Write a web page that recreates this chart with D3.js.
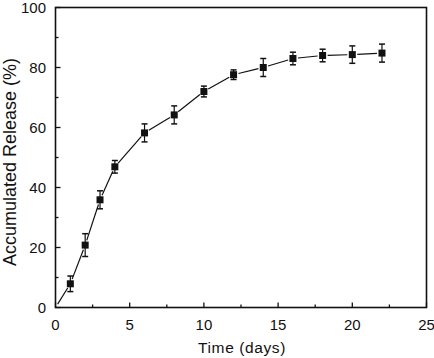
<!DOCTYPE html>
<html><head><meta charset="utf-8">
<script src="https://cdn.jsdelivr.net/npm/d3@7"></script>
<style>body{margin:0;background:#fff}svg{display:block}text{font-family:"Liberation Sans",Arial,sans-serif;fill:#111}</style>
</head><body><svg id="c" width="434" height="358"></svg>
<script>
const days = [0, 1, 2, 3, 4, 6, 8, 10, 12, 14, 16, 18, 20, 22];
const release = [0, 7.9, 20.8, 35.9, 46.9, 58.2, 64.2, 72, 77.6, 80, 83, 84, 84.3, 84.8];
const errors = [0, 2.6, 3.8, 3, 2.1, 3, 3, 1.8, 1.6, 3, 2.1, 2.1, 2.9, 3];
const xTicks = [0, 5, 10, 15, 20, 25];
const yTicks = [0, 20, 40, 60, 80, 100];
const xMinor = [2.5, 7.5, 12.5, 17.5, 22.5];
const yMinor = [10, 30, 50, 70, 90];

const svg = d3.select("#c");
const x = d3.scaleLinear().domain([0, 25]).range([55.5, 426.5]);
const y = d3.scaleLinear().domain([0, 100]).range([307.5, 7.5]);

const g = svg.append("g");
g.append("rect").attr("x", x(0)).attr("y", y(100)).attr("width", x(25) - x(0)).attr("height", y(0) - y(100))
  .attr("fill", "none").attr("stroke", "#111").attr("stroke-width", 1.6);

g.selectAll(".xt").data(xTicks).join("line").attr("x1", d => x(d)).attr("x2", d => x(d))
  .attr("y1", y(0)).attr("y2", y(0) - 5).attr("stroke", "#111").attr("stroke-width", 1.3);
g.selectAll(".xm").data(xMinor).join("line").attr("x1", d => x(d)).attr("x2", d => x(d))
  .attr("y1", y(0)).attr("y2", y(0) - 3).attr("stroke", "#111").attr("stroke-width", 1.3);
g.selectAll(".yt").data(yTicks).join("line").attr("y1", d => y(d)).attr("y2", d => y(d))
  .attr("x1", x(0)).attr("x2", x(0) + 5).attr("stroke", "#111").attr("stroke-width", 1.3);
g.selectAll(".ym").data(yMinor).join("line").attr("y1", d => y(d)).attr("y2", d => y(d))
  .attr("x1", x(0)).attr("x2", x(0) + 3).attr("stroke", "#111").attr("stroke-width", 1.3);

g.selectAll(".xl").data(xTicks).join("text").attr("x", d => x(d)).attr("y", 330)
  .attr("text-anchor", "middle").attr("font-size", 15).text(d => d);
g.selectAll(".yl").data(yTicks).join("text").attr("x", 46).attr("y", d => y(d) + 5.5)
  .attr("text-anchor", "end").attr("font-size", 15).text(d => d);

g.append("text").attr("x", x(12.5) + 1).attr("y", 353).attr("text-anchor", "middle").attr("font-size", 15.5)
  .attr("letter-spacing", 0.6).text("Time (days)");
g.append("text").attr("transform", "translate(16,162) rotate(-90)").attr("text-anchor", "middle")
  .attr("font-size", 18).text("Accumulated Release (%)");

const pts = days.map((d, i) => [x(d), y(release[i])]);
const gap = 5;
for (let i = 0; i < pts.length - 1; i++) {
  const [x1, y1] = pts[i], [x2, y2] = pts[i + 1];
  const L = Math.hypot(x2 - x1, y2 - y1), ux = (x2 - x1) / L, uy = (y2 - y1) / L;
  const g0 = i === 0 ? 4 : gap;
  g.append("line").attr("x1", x1 + ux * g0).attr("y1", y1 + uy * g0)
    .attr("x2", x2 - ux * gap).attr("y2", y2 - uy * gap).attr("stroke", "#111").attr("stroke-width", 1.2);
}

const idx = d3.range(1, days.length);
const eb = g.selectAll(".eb").data(idx).join("g");
eb.append("line").attr("x1", i => x(days[i])).attr("x2", i => x(days[i]))
  .attr("y1", i => y(release[i] + errors[i])).attr("y2", i => y(release[i] - errors[i]))
  .attr("stroke", "#111").attr("stroke-width", 1.2);
eb.append("line").attr("x1", i => x(days[i]) - 3).attr("x2", i => x(days[i]) + 3)
  .attr("y1", i => y(release[i] + errors[i])).attr("y2", i => y(release[i] + errors[i]))
  .attr("stroke", "#111").attr("stroke-width", 1.5);
eb.append("line").attr("x1", i => x(days[i]) - 3).attr("x2", i => x(days[i]) + 3)
  .attr("y1", i => y(release[i] - errors[i])).attr("y2", i => y(release[i] - errors[i]))
  .attr("stroke", "#111").attr("stroke-width", 1.5);
eb.append("rect").attr("x", i => x(days[i]) - 3.5).attr("y", i => y(release[i]) - 3.5)
  .attr("width", 7).attr("height", 7).attr("fill", "#111");
</script></body></html>
